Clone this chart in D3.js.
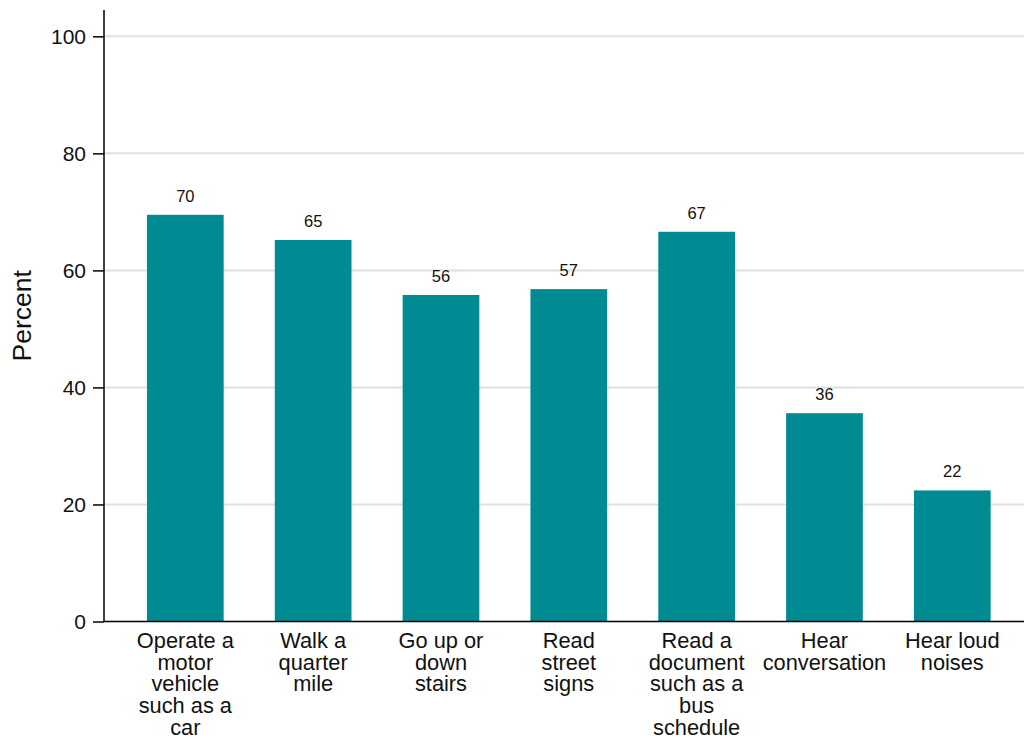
<!DOCTYPE html>
<html>
<head>
<meta charset="utf-8">
<script src="https://cdn.jsdelivr.net/npm/d3@7"></script>
<style>
  html, body { margin: 0; padding: 0; background: #fff; }
  svg { display: block; font-family: "Liberation Sans", Arial, Helvetica, sans-serif; }
</style>
</head>
<body>
<svg id="chart" width="1024" height="738"></svg>
<script>
const categories = [
  ["Operate a", "motor", "vehicle", "such as a", "car"],
  ["Walk a", "quarter", "mile"],
  ["Go up or", "down", "stairs"],
  ["Read", "street", "signs"],
  ["Read a", "document", "such as a", "bus", "schedule"],
  ["Hear", "conversation"],
  ["Hear loud", "noises"]
];
const values = [69.5, 65.2, 55.8, 56.8, 66.6, 35.6, 22.4];
const valueLabels = ["70", "65", "56", "57", "67", "36", "22"];
const yTicks = [0, 20, 40, 60, 80, 100];
const yTitle = "Percent";

const svg = d3.select("#chart");
const axisX = 104, baseY = 621.5, rightX = 1024;

const y = d3.scaleLinear().domain([0, 104.5]).range([baseY, 10]);
const x = d3.scaleBand()
  .domain(d3.range(categories.length))
  .range([121.4, 1016.2])
  .paddingInner(0.4)
  .paddingOuter(0.2);

// gridlines
svg.append("g")
  .selectAll("line")
  .data(yTicks.filter(d => d > 0))
  .join("line")
  .attr("x1", axisX).attr("x2", rightX)
  .attr("y1", d => y(d)).attr("y2", d => y(d))
  .attr("stroke", "#e0e0e0").attr("stroke-width", 2);

// bars
svg.append("g")
  .selectAll("rect")
  .data(values)
  .join("rect")
  .attr("x", (d, i) => x(i))
  .attr("width", x.bandwidth())
  .attr("y", d => y(d))
  .attr("height", d => baseY - y(d))
  .attr("fill", "#008b93");

// value labels
svg.append("g")
  .selectAll("text")
  .data(values)
  .join("text")
  .attr("x", (d, i) => x(i) + x.bandwidth() / 2)
  .attr("y", d => y(d) - 13)
  .attr("text-anchor", "middle")
  .attr("font-size", 16.5)
  .attr("fill", "#111")
  .text((d, i) => valueLabels[i]);

// y axis
const yAxis = d3.axisLeft(y).tickValues(yTicks).tickSize(11).tickPadding(7);
const gy = svg.append("g").attr("transform", `translate(${axisX},0)`).call(yAxis);
gy.select(".domain").attr("d", `M0,${y(104.5)}V${baseY}`).attr("stroke", "#000").attr("stroke-width", 1.5);
gy.selectAll(".tick line").attr("stroke", "#000").attr("stroke-width", 1.5);
gy.selectAll(".tick text").attr("font-size", 21).attr("fill", "#111")
  .attr("font-family", "'Liberation Sans', Arial, Helvetica, sans-serif");

// x axis line
svg.append("line")
  .attr("x1", axisX).attr("x2", rightX)
  .attr("y1", baseY).attr("y2", baseY)
  .attr("stroke", "#000").attr("stroke-width", 1.5);

// category labels
const cat = svg.append("g")
  .selectAll("text")
  .data(categories)
  .join("text")
  .attr("text-anchor", "middle")
  .attr("font-size", 21.8)
  .attr("fill", "#111");
cat.each(function(lines, i) {
  const t = d3.select(this);
  lines.forEach((ln, j) => {
    t.append("tspan")
      .attr("x", x(i) + x.bandwidth() / 2)
      .attr("y", 648 + j * 21.7)
      .text(ln);
  });
});

// y title
svg.append("text")
  .attr("transform", `translate(31,${(y(104.5) + baseY) / 2}) rotate(-90)`)
  .attr("text-anchor", "middle")
  .attr("font-size", 26.5)
  .attr("fill", "#111")
  .text(yTitle);
</script>
</body>
</html>
